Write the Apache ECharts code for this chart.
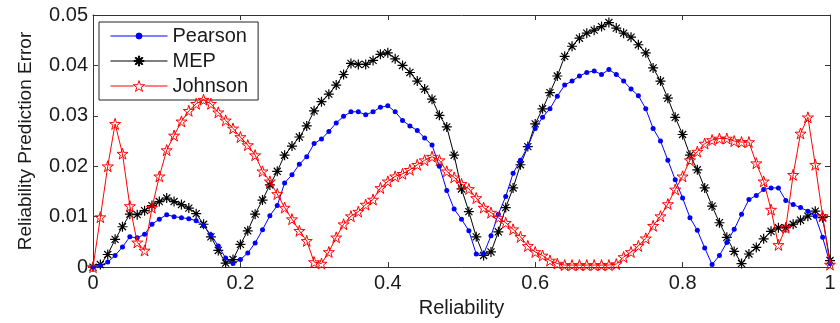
<!DOCTYPE html>
<html>
<head>
<meta charset="utf-8">
<script src="https://cdn.jsdelivr.net/npm/echarts@6/dist/echarts.min.js"></script>
<style>
html,body{margin:0;padding:0;background:#fff;}
#chart{width:840px;height:323px;}
</style>
</head>
<body>
<div id="chart"></div>
<script>
var reliability = [0,0.01,0.02,0.03,0.04,0.05,0.06,0.07,0.08,0.09,
0.10,0.11,0.12,0.13,0.14,0.15,0.16,0.17,0.18,0.19,
0.20,0.21,0.22,0.23,0.24,0.25,0.26,0.27,0.28,0.29,
0.30,0.31,0.32,0.33,0.34,0.35,0.36,0.37,0.38,0.39,
0.40,0.41,0.42,0.43,0.44,0.45,0.46,0.47,0.48,0.49,
0.50,0.51,0.52,0.53,0.54,0.55,0.56,0.57,0.58,0.59,
0.60,0.61,0.62,0.63,0.64,0.65,0.66,0.67,0.68,0.69,
0.70,0.71,0.72,0.73,0.74,0.75,0.76,0.77,0.78,0.79,
0.80,0.81,0.82,0.83,0.84,0.85,0.86,0.87,0.88,0.89,
0.90,0.91,0.92,0.93,0.94,0.95,0.96,0.97,0.98,0.99,1.00];

var pearson = [0,0.0003,0.001,0.0023,0.004,0.006,0.0058,0.0065,0.0085,0.0095,
0.0104,0.01,0.0098,0.0096,0.0092,0.0082,0.0064,0.0042,0.0018,0.0007,
0.0015,0.0028,0.0048,0.0074,0.0102,0.0122,0.0167,0.0183,0.0204,0.0219,
0.0245,0.0254,0.0269,0.0286,0.0299,0.0308,0.0308,0.0302,0.0308,0.0317,
0.032,0.0308,0.0291,0.028,0.0271,0.0256,0.0242,0.02,0.0152,0.0115,
0.0095,0.0072,0.0026,0.0026,0.0062,0.0105,0.014,0.0186,0.0212,0.0239,
0.0275,0.0297,0.0314,0.0339,0.0361,0.0369,0.0379,0.0386,0.0389,0.0382,
0.0392,0.0382,0.0369,0.0353,0.034,0.0314,0.0275,0.025,0.0212,0.0173,
0.0137,0.0098,0.0073,0.0038,0.0005,0.0023,0.0049,0.0075,0.0105,0.0134,
0.0142,0.0154,0.0157,0.0157,0.0132,0.0124,0.0118,0.0111,0.0101,0.0059,0.0007];

var mep = [0,0.0005,0.0025,0.0055,0.008,0.0105,0.0104,0.0112,0.0122,0.013,
0.0137,0.013,0.0124,0.0117,0.0106,0.0085,0.006,0.0033,0.0008,0.0015,
0.0045,0.0072,0.0105,0.0133,0.0163,0.019,0.0222,0.024,0.0258,0.028,
0.031,0.0328,0.0343,0.0361,0.0382,0.0404,0.0402,0.0402,0.041,0.0422,
0.0425,0.0413,0.04,0.0386,0.0369,0.0353,0.0333,0.0301,0.0278,0.0222,
0.0155,0.011,0.006,0.0023,0.003,0.007,0.0118,0.0157,0.0203,0.0239,
0.0284,0.0314,0.0346,0.0379,0.0418,0.0438,0.0454,0.0464,0.047,0.0477,
0.0485,0.0474,0.0464,0.0456,0.0441,0.0425,0.0395,0.0369,0.0335,0.0297,
0.0263,0.0222,0.0193,0.0157,0.0121,0.0088,0.0059,0.0031,0.0007,0.0026,
0.0039,0.0056,0.0071,0.0078,0.0078,0.0085,0.0093,0.0101,0.0111,0.0098,0.0013];

var johnson = [0,0.0099,0.02,0.0284,0.0225,0.0121,0.0049,0.0033,0.0118,0.018,
0.0232,0.0261,0.0289,0.031,0.0324,0.0332,0.0324,0.0307,0.0291,0.0275,
0.0258,0.0242,0.0222,0.019,0.017,0.0145,0.0118,0.0095,0.0072,0.0052,
0.001,0.0007,0.003,0.0059,0.0085,0.0101,0.011,0.0124,0.0134,0.0157,
0.017,0.018,0.0185,0.0193,0.0203,0.0212,0.0219,0.0212,0.019,0.0178,
0.0165,0.0155,0.0137,0.0118,0.0108,0.0098,0.0088,0.0075,0.006,0.0042,
0.003,0.0023,0.0013,0.0007,0.0004,0.0004,0.0004,0.0004,0.0004,0.0004,
0.0004,0.0006,0.002,0.003,0.0042,0.0057,0.0082,0.0101,0.0125,0.0154,
0.018,0.0212,0.0229,0.0245,0.0252,0.0255,0.0255,0.025,0.0248,0.0248,
0.0206,0.017,0.0114,0.0044,0.0078,0.0183,0.0265,0.0297,0.0203,0.0101,0.0005];

var seriesNames = ['Pearson','MEP','Johnson'];
var xTickLabels = ['0','0.2','0.4','0.6','0.8','1'];
var yTickLabels = ['0','0.01','0.02','0.03','0.04','0.05'];

function pairs(ys){ return reliability.map(function(x,i){ return [x, ys[i]]; }); }

var asteriskPath = 'path://M0 8.8L20 8.8L20 11.2L0 11.2Z M8.8 0L11.2 0L11.2 20L8.8 20Z M3.78 2.08L17.92 16.22L16.22 17.92L2.08 3.78Z M16.22 2.08L17.92 3.78L3.78 17.92L2.08 16.22Z';
var starPath = 'path://M10 0L12.245 6.91L19.511 6.91L13.633 11.18L15.878 18.09L10 13.82L4.122 18.09L6.367 11.18L0.489 6.91L7.755 6.91Z';

/* legend icons: line + marker, bounding box 57 x 12 */
var legPearson = 'path://M0 0 M57 12 M0 6L25.5 6 M31.5 6L57 6 M25.5 6A3 3 0 1 1 31.5 6A3 3 0 1 1 25.5 6Z';
var legMEP = 'path://M0 0 M57 12 M0 6L57 6 M23.5 5.4L33.5 5.4L33.5 6.6L23.5 6.6Z M27.9 1L29.1 1L29.1 11L27.9 11Z M25.39 2.04L32.46 9.11L31.61 9.96L24.54 2.89Z M31.61 2.04L32.46 2.89L25.39 9.96L24.54 9.11Z';
var legJohnson = 'path://M0 0 M57 12 M0 6L22.8 6 M34.2 6L57 6 M28.5 0.6L29.85 4.75L34.21 4.75L30.68 7.31L32.03 11.45L28.5 8.9L24.97 11.45L26.32 7.31L22.79 4.75L27.15 4.75Z';

var FONT = '"Liberation Sans", Arial, sans-serif';
var txt = '#1a1a1a';

var chart = echarts.init(document.getElementById('chart'), null, {renderer:'canvas'});
var axisLineStyle = {color:'#333', width:1};
chart.setOption({
  animation:false,
  backgroundColor:'#fff',
  textStyle:{fontFamily:FONT},
  grid:{left:93, right:10, top:15, bottom:53, containLabel:false},
  legend:{
    orient:'vertical', left:99, top:22,
    data:[
      {name:seriesNames[0], icon:legPearson, itemStyle:{color:'#0000ff', borderColor:'#0000ff', borderWidth:1}},
      {name:seriesNames[1], icon:legMEP, itemStyle:{color:'#000', borderColor:'#000', borderWidth:1}},
      {name:seriesNames[2], icon:legJohnson, itemStyle:{color:'rgba(255,255,255,0)', borderColor:'#ff0000', borderWidth:1}}
    ],
    backgroundColor:'#fff', borderColor:'#222', borderWidth:1,
    padding:[4,10,4,11],
    itemWidth:57, itemHeight:12, itemGap:5,
    textStyle:{fontSize:20, color:txt, fontFamily:FONT}
  },
  xAxis:[{
    type:'value', min:0, max:1, interval:0.2, position:'bottom',
    name:'Reliability', nameLocation:'middle', nameGap:28,
    nameTextStyle:{fontSize:20, color:txt, fontFamily:FONT},
    axisLine:{show:true, onZero:false, lineStyle:axisLineStyle},
    axisTick:{show:true, inside:true, length:5, lineStyle:axisLineStyle},
    axisLabel:{fontSize:20, color:txt, margin:6, fontFamily:FONT,
      formatter:function(v){ return xTickLabels[Math.round(v/0.2)]; }},
    splitLine:{show:false}
  },{
    type:'value', min:0, max:1, interval:0.2, position:'top',
    axisLine:{show:true, onZero:false, lineStyle:axisLineStyle},
    axisTick:{show:true, inside:true, length:5, lineStyle:axisLineStyle},
    axisLabel:{show:false}, splitLine:{show:false}
  }],
  yAxis:[{
    type:'value', min:0, max:0.05, interval:0.01, position:'left',
    name:'Reliability Prediction Error', nameLocation:'middle', nameGap:58,
    nameTextStyle:{fontSize:19, color:txt, fontFamily:FONT},
    axisLine:{show:true, onZero:false, lineStyle:axisLineStyle},
    axisTick:{show:true, inside:true, length:5, lineStyle:axisLineStyle},
    axisLabel:{fontSize:20, color:txt, margin:5, fontFamily:FONT,
      formatter:function(v){ return yTickLabels[Math.round(v/0.01)]; }},
    splitLine:{show:false}
  },{
    type:'value', min:0, max:0.05, interval:0.01, position:'right',
    axisLine:{show:true, onZero:false, lineStyle:axisLineStyle},
    axisTick:{show:true, inside:true, length:5, lineStyle:axisLineStyle},
    axisLabel:{show:false}, splitLine:{show:false}
  }],
  series:[{
    name:seriesNames[0], type:'line', xAxisIndex:0, yAxisIndex:0,
    data:pairs(pearson),
    symbol:'circle', symbolSize:5,
    lineStyle:{color:'#0000ff', width:1},
    itemStyle:{color:'#0000ff'},
    z:3
  },{
    name:seriesNames[1], type:'line', xAxisIndex:0, yAxisIndex:0,
    data:pairs(mep),
    symbol:asteriskPath, symbolSize:10,
    lineStyle:{color:'#000', width:1},
    itemStyle:{color:'#000'},
    z:2
  },{
    name:seriesNames[2], type:'line', xAxisIndex:0, yAxisIndex:0,
    data:pairs(johnson),
    symbol:starPath, symbolSize:11,
    lineStyle:{color:'#ff0000', width:1},
    itemStyle:{color:'rgba(255,255,255,0)', borderColor:'#ff0000', borderWidth:1},
    z:4
  }]
});
</script>
</body>
</html>
